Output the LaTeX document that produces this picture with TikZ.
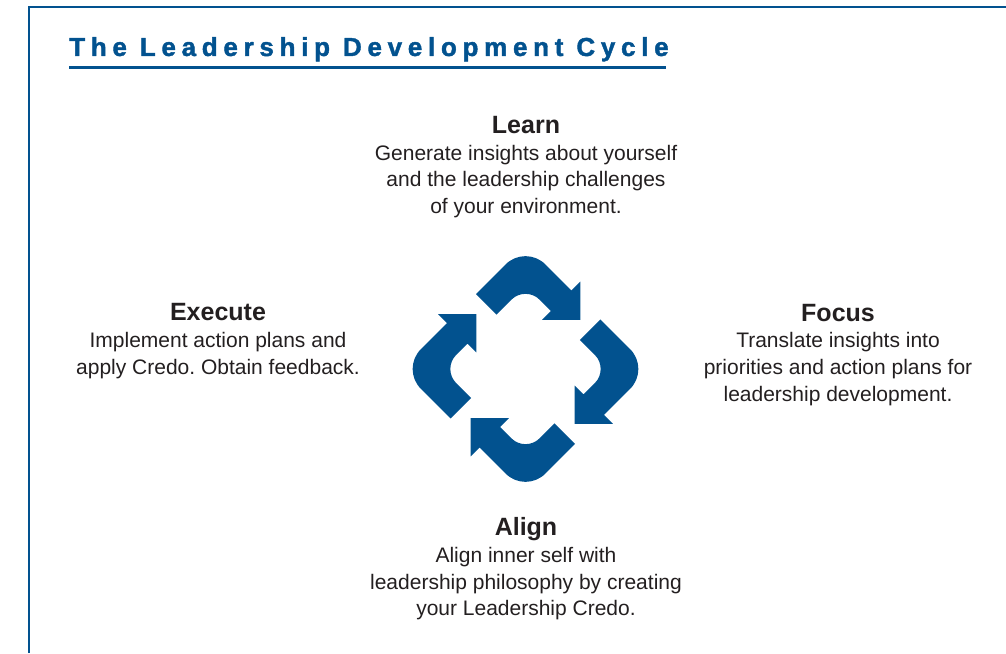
\documentclass[tikz,border=0pt]{standalone}
\usepackage{fontspec}
\setmainfont{Liberation Sans}
\newfontfamily\titlefont[UprightFont={* Bold},LetterSpace=22,FakeBold=1.5]{Liberation Sans}
\definecolor{cycleblue}{RGB}{2,82,143}
\definecolor{inktext}{RGB}{35,31,32}
\frenchspacing
\begin{document}
\begin{tikzpicture}[x=0.75pt, y=0.75pt,
    head/.style={inner sep=0, text=inktext, anchor=base, font=\fontsize{18.75}{20}\selectfont\bfseries},
    body/.style={inner sep=0, text=inktext, anchor=north, align=center, font=\fontsize{15.75}{20}\selectfont},
    frame/.style={cycleblue, line width=1.5pt}]
\useasboundingbox (0,0) rectangle (1006,653);
\draw[frame] (29,0) -- (29,646) -- (1006,646);

\node[inner sep=0, anchor=base west, text=cycleblue, font=\titlefont\fontsize{19.5}{22}\selectfont] (title) at (69,597) {The Leadership Development Cycle};
\draw[cycleblue, line width=1.9pt] (69,585.7) -- (666,585.7);

\node[head] (learn)  at (526,519.7) {Learn};
\node[body] (learntext)  at (526,508.3) {Generate insights about yourself\\and the leadership challenges\\of your environment.};
\node[head] (focus)  at (838,331.3) {Focus};
\node[body] (focustext)  at (838,320.6) {Translate insights into\\priorities and action plans for\\leadership development.};
\node[head] (align)  at (526,117.3) {Align};
\node[body] (aligntext)  at (526,106) {Align inner self with\\leadership philosophy by creating\\your Leadership Credo.};
\node[head] (execute)  at (218,332.3) {Execute};
\node[body] (executetext)  at (218,321) {Implement action plans and\\apply Credo. Obtain feedback.};

% the four arrows of the cycle
\foreach \a in {45,135,225,315}
  \fill[cycleblue, shift={(525.5,284)}, rotate=\a] (18,88) -- (60,88) arc[start angle=90, end angle=0, radius=28]
    -- (88,23) -- (100.5,23) -- (73.5,-4) -- (46.5,23) -- (59,23) -- (59,39)
    arc[start angle=0, end angle=90, radius=20] -- (18,59) -- cycle;
\end{tikzpicture}
\end{document}
